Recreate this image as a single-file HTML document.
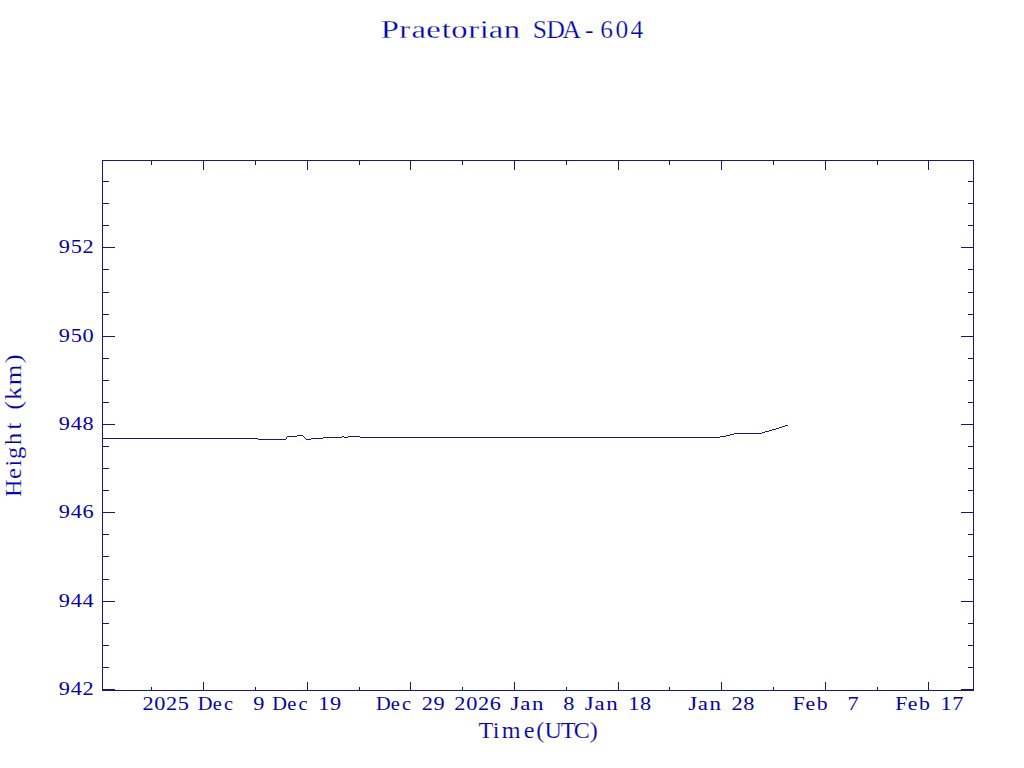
<!DOCTYPE html>
<html lang="en">
<head>
<meta charset="utf-8">
<title>Praetorian SDA-604</title>
<style>
html,body{margin:0;padding:0;background:#fff}
body{width:1024px;height:768px;overflow:hidden}
svg{display:block}
text{fill:#0404a2;text-anchor:middle;white-space:pre}
.a{stroke:#fff;stroke-width:0.15px;stroke-linejoin:round;paint-order:fill stroke}
.t{stroke:#fff;stroke-width:0.25px;stroke-linejoin:round;paint-order:fill stroke}
.s{font-family:"Liberation Serif","DejaVu Serif",serif;font-size:19.4px}
.a{font-family:"Liberation Serif","DejaVu Serif",serif;font-size:23px}
.t{font-family:"Liberation Serif","DejaVu Serif",serif;font-size:25.5px}
.ln{stroke:#17167a;stroke-width:1;fill:none;shape-rendering:crispEdges}
</style>
</head>
<body>
<svg xml:space="preserve" width="1024" height="768" viewBox="0 0 1024 768">
<rect width="1024" height="768" fill="#fff"/>
<path class="ln" d="M102 160.5H974M102 690.5H974M102.5 160V691M973.5 160V691M203.5 160V170M203.5 682V691M307.5 160V170M307.5 682V691M410.5 160V170M410.5 682V691M514.5 160V170M514.5 682V691M618.5 160V170M618.5 682V691M721.5 160V170M721.5 682V691M825.5 160V170M825.5 682V691M928.5 160V170M928.5 682V691M151.5 160V165M151.5 687V691M255.5 160V165M255.5 687V691M359.5 160V165M359.5 687V691M462.5 160V165M462.5 687V691M566.5 160V165M566.5 687V691M669.5 160V165M669.5 687V691M773.5 160V165M773.5 687V691M877.5 160V165M877.5 687V691M102 689.5H115M961 689.5H974M102 667.5H109M968 667.5H974M102 645.5H109M968 645.5H974M102 623.5H109M968 623.5H974M102 601.5H115M961 601.5H974M102 579.5H109M968 579.5H974M102 556.5H109M968 556.5H974M102 534.5H109M968 534.5H974M102 512.5H115M961 512.5H974M102 490.5H109M968 490.5H974M102 468.5H109M968 468.5H974M102 446.5H109M968 446.5H974M102 424.5H115M961 424.5H974M102 402.5H109M968 402.5H974M102 380.5H109M968 380.5H974M102 358.5H109M968 358.5H974M102 336.5H115M961 336.5H974M102 314.5H109M968 314.5H974M102 292.5H109M968 292.5H974M102 269.5H109M968 269.5H974M102 247.5H115M961 247.5H974M102 225.5H109M968 225.5H974M102 203.5H109M968 203.5H974M102 181.5H109M968 181.5H974"/>
<path class="ln" d="M102 438.5H258M258 439.5H286M286 438.5H287M286 437.5H287M287 436.5H297M297 435.5H303M303 436.5H304M304 437.5H305M305 438.5H306M306 439.5H311M311 438.5H323M323 437.5H342M342 436.5H344M344 437.5H348M348 436.5H360M360 437.5H720M720 436.5H726M726 435.5H730M730 434.5H734M734 433.5H762M762 432.5H765M765 431.5H769M769 430.5H772M772 429.5H776M776 428.5H779M779 427.5H782M782 426.5H785M785 425.5H788"/>
<text class="s" transform="scale(1.15,1)" x="128.7 139 149.2 159.5" y="709.9">2025</text>
<text class="s" transform="scale(1.05,1)" x="195.4 206.9 217.6" y="709.9">Dec</text>
<text class="s" transform="scale(1.15,1)" x="225" y="709.9">9</text>
<text class="s" transform="scale(1.05,1)" x="266.4 277.9 288.6" y="709.9">Dec</text>
<text class="s" transform="scale(1.15,1)" x="281.6 291.9" y="709.9">19</text>
<text class="s" transform="scale(1.05,1)" x="365 376.5 387.1" y="709.9">Dec</text>
<text class="s" transform="scale(1.15,1)" x="371.6 381.9" y="709.9">29</text>
<text class="s" transform="scale(1.15,1)" x="399.9 410.2 420.4 430.7" y="709.9">2026</text>
<text class="s" transform="scale(1.18,1)" x="436.4 445.2 455.6" y="709.9">Jan</text>
<text class="s" transform="scale(1.15,1)" x="494.7" y="709.9">8</text>
<text class="s" transform="scale(1.18,1)" x="499.4 508.2 518.7" y="709.9">Jan</text>
<text class="s" transform="scale(1.15,1)" x="551.1 561.4" y="709.9">18</text>
<text class="s" transform="scale(1.18,1)" x="587 595.7 606.2" y="709.9">Jan</text>
<text class="s" transform="scale(1.15,1)" x="641 651.2" y="709.9">28</text>
<text class="s" transform="scale(1.12,1)" x="713.3 723.6 734.1" y="709.9">Feb</text>
<text class="s" transform="scale(1.15,1)" x="741.8" y="709.9">7</text>
<text class="s" transform="scale(1.12,1)" x="804.7 814.9 825.4" y="709.9">Feb</text>
<text class="s" transform="scale(1.15,1)" x="822.6 832.8" y="709.9">17</text>
<text class="s" transform="scale(1.15,1)" x="56 66.4 76.7" y="253.4">952</text>
<text class="s" transform="scale(1.15,1)" x="56 66.4 76.7" y="342.4">950</text>
<text class="s" transform="scale(1.15,1)" x="56 66.4 76.7" y="430.4">948</text>
<text class="s" transform="scale(1.15,1)" x="56 66.4 76.7" y="518.4">946</text>
<text class="s" transform="scale(1.15,1)" x="56 66.4 76.7" y="607.4">944</text>
<text class="s" transform="scale(1.15,1)" x="56 66.4 76.7" y="695.4">942</text>
<text class="a" transform="scale(1.05,1)" x="462.8 472.6 486.9 503.9 514.6 527 541.1 554.1 565.5" y="738.3">Time(UTC)</text>
<text class="a" transform="rotate(-90) scale(1.06,1)" x="-460.6 -446.7 -437 -427.3 -414.1 -402.1" y="21.4">Height</text>
<text class="a" transform="rotate(-90) scale(1.15,1)" x="-352.5 -342 -326 -312" y="21.4">(km)</text>
<text class="t" transform="scale(1.28,1)" x="304.6 316.1 327.1 338.6 348.7 359 370 378.3 387.5 399.9" y="38">Praetorian</text>
<text class="t" x="539.9 555.8 571.7 589.2 606.6 621.8 636.9" y="38">SDA-604</text>
</svg>
</body>
</html>
